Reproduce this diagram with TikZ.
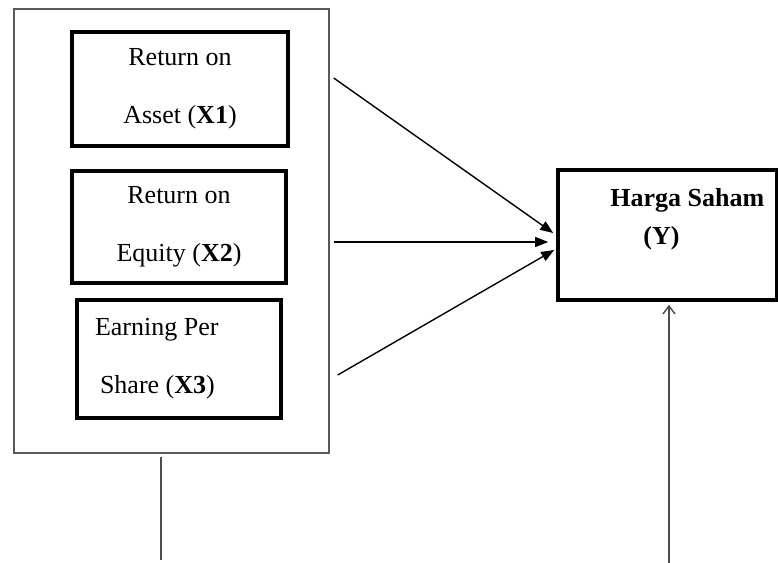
\documentclass[tikz,border=0pt]{standalone}
\usepackage{fontspec}
\setmainfont{Liberation Serif}
\usepackage{tikz}
\usetikzlibrary{calc,arrows.meta}

\begin{document}
\begin{tikzpicture}[
  x=0.5pt, y=-0.5pt,
  font=\fontsize{13}{29}\selectfont,
  var/.style={draw, line width=1.8pt, align=center, inner sep=0pt},
  grpbox/.style={draw=black!65, line width=0.7pt, minimum width=157.5pt, minimum height=222pt},
  arr/.style={-{Triangle[length=6.5pt,width=5pt]}, line width=0.7pt},
  ln/.style={draw=black!70, line width=0.7pt}]
  \useasboundingbox (0,0) rectangle (778,563);
  % independent variables
  \node[grpbox] (grp) at (171.5,231) {};
  \node[var, minimum width=108pt, minimum height=57pt] (roa) at (180,89) {Return on\\Asset (\textbf{X1})};
  \node[var, minimum width=107pt, minimum height=56pt] (roe) at (179,227) {Return on\\Equity (\textbf{X2})};
  \node[var, align=flush left, text width=84pt, inner xsep=9pt, minimum height=59pt] (eps) at (179,359) {Earning Per\\\hspace*{2.5pt}Share (\textbf{X3})};
  % dependent variable
  \node[var, minimum width=109.5pt, minimum height=65pt] (y) at (667.5,235) {};
  \node[anchor=north west, align=left, inner sep=0pt, font=\fontsize{13}{19}\selectfont\bfseries] (ylab) at (610,188) {Harga Saham\\\hspace*{16.5pt}(Y)};
  \coordinate (s1) at ($(grp.east)+(4,-153)$);
  \coordinate (s2) at ($(grp.east)+(4,11)$);
  \coordinate (s3) at ($(grp.east)+(8,144)$);
  \draw[arr] (s1) -- ([shift={(-3,-2)}]y.west);
  \draw[arr] (s2) -- ([shift={(-8,7)}]y.west);
  \draw[arr] (s3) -- ([shift={(-2,15)}]y.west);
  % lines at the bottom
  \coordinate (b1) at (161,457);
  \coordinate (b2) at (161,560);
  \coordinate (r1) at (669,563);
  \draw[ln] (b1) -- (b2);
  \draw[ln, -{Straight Barb[length=4pt,width=6pt]}] (r1) -- ([shift={(1.5,3)}]y.south);
\end{tikzpicture}
\end{document}
